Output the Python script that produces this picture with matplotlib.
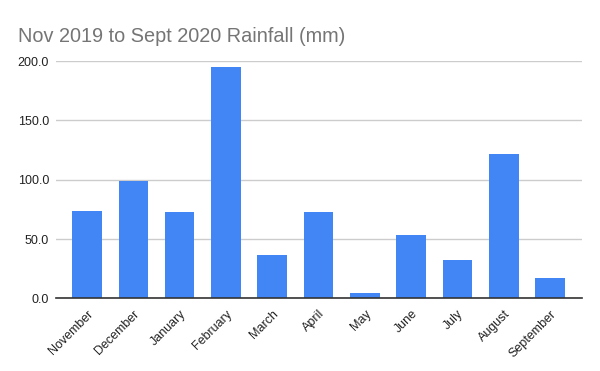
import matplotlib
matplotlib.use("Agg")
import matplotlib.pyplot as plt
import numpy as np

plt.rcParams['font.family'] = ['Liberation Sans', 'DejaVu Sans']

# Monthly rainfall, Nov 2019 - Sept 2020 (mm)
months = ["November", "December", "January", "February", "March", "April",
          "May", "June", "July", "August", "September"]
rainfall = [73.4, 98.7, 72.6, 195.2, 36.3, 72.6, 4.2, 53.2, 32.1, 121.5, 16.9]
y_ticks = [0, 50, 100, 150, 200]

fig = plt.figure(figsize=(6, 3.71), dpi=100)
ax = fig.add_axes([0.0933, 0.196, 0.877, 0.639])

x = np.arange(len(months))
ax.bar(x, rainfall, width=0.64, color="#4285F4", zorder=3)

ax.set_xlim(-0.67, len(months) - 1 + 0.69)
ax.set_ylim(0, 200)
ax.set_yticks(y_ticks)
ax.set_yticklabels([f"{v:.1f}" for v in y_ticks], fontsize=9, color="#222222")
ax.set_xticks(x)
ax.set_xticklabels(months, rotation=45, ha="right", va="top",
                   rotation_mode="anchor", fontsize=9, color="#222222")
ax.tick_params(axis="both", length=0)
ax.tick_params(axis="y", pad=5)
ax.tick_params(axis="x", pad=7)

ax.grid(axis="y", color="#cccccc", linewidth=1, zorder=0)
for side in ["top", "right", "left"]:
    ax.spines[side].set_visible(False)
ax.spines["bottom"].set_color("#333333")
ax.spines["bottom"].set_linewidth(1.2)
ax.spines["bottom"].set_zorder(4)

fig.text(0.03, 0.887, "Nov 2019 to Sept 2020 Rainfall (mm)", fontsize=14.3,
         color="#757575", ha="left", va="baseline")

fig.savefig("out.png", dpi=100)
